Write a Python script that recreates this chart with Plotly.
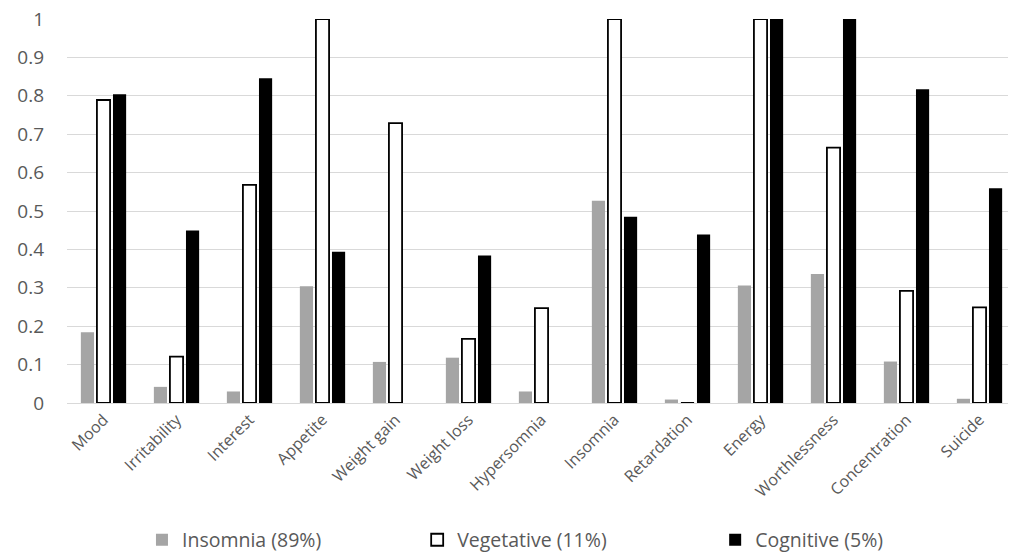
import plotly.graph_objects as go

categories = ["Mood", "Irritability", "Interest", "Appetite", "Weight gain", "Weight loss",
              "Hypersomnia", "Insomnia", "Retardation", "Energy", "Worthlessness",
              "Concentration", "Suicide"]
insomnia = [0.184, 0.042, 0.030, 0.304, 0.107, 0.118, 0.030, 0.527, 0.009, 0.306, 0.336, 0.108, 0.011]
vegetative = [0.789, 0.121, 0.568, 1.0, 0.729, 0.167, 0.247, 1.0, 0.0, 1.0, 0.665, 0.292, 0.249]
cognitive = [0.804, 0.449, 0.846, 0.394, 0.0, 0.384, 0.0, 0.485, 0.439, 1.0, 1.0, 0.817, 0.559]
series_names = ["Insomnia (89%)", "Vegetative (11%)", "Cognitive (5%)"]
y_ticks = [0, 0.1, 0.2, 0.3, 0.4, 0.5, 0.6, 0.7, 0.8, 0.9, 1]

FONT = "'Open Sans', Lato, sans-serif"

fig = go.Figure()
fig.add_trace(go.Bar(x=categories, y=insomnia, name=series_names[0], legend="legend",
                     marker=dict(color="#A5A5A5", line=dict(width=0))))
fig.add_trace(go.Bar(x=categories, y=vegetative, name=series_names[1], legend="legend2",
                     marker=dict(color="#FFFFFF", line=dict(color="#000000", width=1.8))))
fig.add_trace(go.Bar(x=categories, y=cognitive, name=series_names[2], legend="legend3",
                     marker=dict(color="#000000", line=dict(width=0))))

leg_common = dict(orientation="h", xanchor="left", y=-0.357, yanchor="middle",
                  itemwidth=30, font=dict(size=19.5, color="#595959"),
                  bgcolor="rgba(0,0,0,0)")

# the page body adds an 8px offset, so the figure is sized/margined to compensate
fig.update_layout(
    width=1008, height=550,
    margin=dict(l=59, r=0, t=11, b=155, autoexpand=False),
    paper_bgcolor="white", plot_bgcolor="white",
    barmode="group", bargap=0.34, bargroupgap=0.18,
    font=dict(family=FONT, color="#595959", size=18),
    legend=dict(x=0.079, **leg_common),
    legend2=dict(x=0.369, **leg_common),
    legend3=dict(x=0.683, **leg_common),
    showlegend=True,
)
fig.update_yaxes(range=[0, 1], tickvals=y_ticks, ticktext=[f"{v:g}" for v in y_ticks],
                 showgrid=True, gridcolor="#D9D9D9", gridwidth=1.3, zeroline=False,
                 showline=False, ticks="", ticklabelstandoff=22, ticklabeloverflow="allow",
                 tickfont=dict(size=19, color="#595959"))
fig.update_xaxes(tickangle=-45, showline=True, linecolor="#D9D9D9", linewidth=1.3,
                 ticks="", tickfont=dict(size=16, color="#595959"), showgrid=False)

fig.write_html("out.html")
